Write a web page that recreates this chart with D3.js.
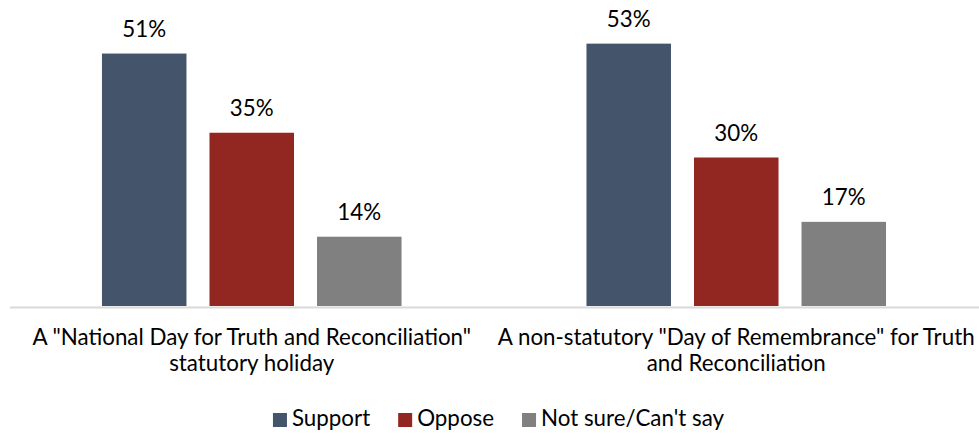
<!DOCTYPE html>
<html>
<head>
<meta charset="utf-8">
<script src="https://cdn.jsdelivr.net/npm/d3@7"></script>
<style>
  html, body { margin: 0; padding: 0; background: #ffffff; }
  svg { display: block; }
  text { font-family: Lato, "Open Sans", sans-serif; fill: #000; }
</style>
</head>
<body>
<svg id="chart" width="979" height="434"></svg>
<script>
// ---- data ----
const categories = [
  'A "National Day for Truth and Reconciliation" statutory holiday',
  'A non-statutory "Day of Remembrance" for Truth and Reconciliation'
];
const categoryLines = [
  ['A "National Day for Truth and Reconciliation"', 'statutory holiday'],
  ['A non-statutory "Day of Remembrance" for Truth', 'and Reconciliation']
];
const seriesNames = ['Support', 'Oppose', "Not sure/Can't say"];
const supportValues = [51, 53];
const opposeValues = [35, 30];
const notSureValues = [14, 17];
const seriesColors = ['#44546A', '#922722', '#808080'];

const seriesValues = [supportValues, opposeValues, notSureValues];

// ---- layout ----
const W = 979, H = 434;
const plotLeft = 9.5, plotRight = 978.5, baseY = 306, topY = 9;

const svg = d3.select('#chart');

// calibrate font size so the first label line spans ~439px (as in the reference)
const probe = svg.append('text').style('font-size', '100px').text(categoryLines[0][0]);
const probeW = probe.node().getComputedTextLength();
probe.remove();
const fontSize = Math.max(16, Math.min(26, 100 * 439 / probeW));

const x0 = d3.scaleBand().domain(categories).range([plotLeft, plotRight]).paddingInner(0).paddingOuter(0);
const x1 = d3.scaleBand().domain(seriesNames).range([0, x0.bandwidth()]).paddingInner(0.214).paddingOuter(0.86);
const y = d3.scaleLinear().domain([0, 60]).range([baseY, topY]);
const color = d3.scaleOrdinal().domain(seriesNames).range(seriesColors);

const rows = [];
categories.forEach((c, ci) => {
  seriesNames.forEach((s, si) => {
    rows.push({ cat: c, series: s, value: seriesValues[si][ci] });
  });
});

// bars
svg.append('g').selectAll('rect').data(rows).join('rect')
  .attr('x', d => x0(d.cat) + x1(d.series))
  .attr('y', d => y(d.value))
  .attr('width', x1.bandwidth())
  .attr('height', d => y(0) - y(d.value))
  .attr('fill', d => color(d.series));

// axis line
const xAxis = d3.axisBottom(x0).tickSize(0).tickFormat(() => '');
const axisG = svg.append('g').attr('transform', `translate(0,${baseY + 1})`).call(xAxis);
axisG.select('.domain').attr('stroke', '#D9D9D9').attr('stroke-width', 2);

// category labels (two lines)
axisG.selectAll('.tick text').remove();
axisG.selectAll('.tick').each(function(d, i) {
  const t = d3.select(this).append('text')
    .attr('text-anchor', 'middle')
    .style('font-size', fontSize + 'px')
    .style('fill', '#000');
  categoryLines[i].forEach((line, li) => {
    t.append('tspan').attr('x', 0).attr('y', (345 - (baseY + 1)) + li * 26).text(line);
  });
});

// data labels
svg.append('g').selectAll('text').data(rows).join('text')
  .attr('x', d => x0(d.cat) + x1(d.series) + x1.bandwidth() / 2)
  .attr('y', d => y(d.value) - 17)
  .attr('text-anchor', 'middle')
  .style('font-size', fontSize + 'px')
  .text(d => d.value + '%');

// legend
const legend = svg.append('g');
const items = legend.selectAll('g').data(seriesNames).join('g');
items.append('rect').attr('width', 14).attr('height', 14).attr('y', 413)
  .attr('fill', d => color(d));
items.append('text').attr('x', 19).attr('y', 426)
  .style('font-size', fontSize + 'px').text(d => d);
let cx = 0;
const pos = [];
items.each(function(d) {
  const w = 19 + this.querySelector('text').getComputedTextLength();
  pos.push(cx);
  cx += w + 28;
});
const totalW = cx - 28;
const startX = 498.5 - totalW / 2;
items.attr('transform', (d, i) => `translate(${startX + pos[i]},0)`);
</script>
</body>
</html>
